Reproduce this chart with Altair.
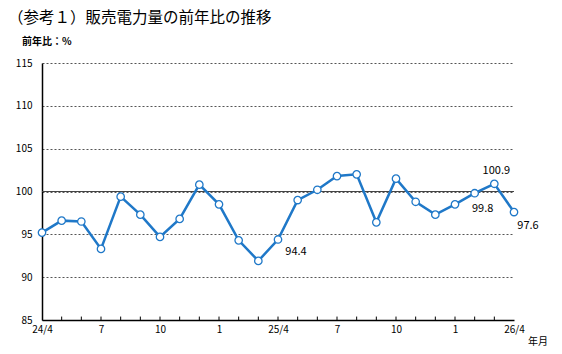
import altair as alt
import pandas as pd

months = ["24/4", "24/5", "24/6", "24/7", "24/8", "24/9", "24/10", "24/11", "24/12",
          "25/1", "25/2", "25/3", "25/4", "25/5", "25/6", "25/7", "25/8", "25/9",
          "25/10", "25/11", "25/12", "26/1", "26/2", "26/3", "26/4"]
values = [95.2, 96.6, 96.5, 93.3, 99.4, 97.3, 94.7, 96.8, 100.8,
          98.5, 94.3, 91.9, 94.4, 99.0, 100.2, 101.8, 102.0, 96.4,
          101.5, 98.8, 97.3, 98.5, 99.8, 100.9, 97.6]
x_labels = ["24/4", "", "", "7", "", "", "10", "", "", "1", "", "", "25/4",
            "", "", "7", "", "", "10", "", "", "1", "", "", "26/4"]
y_ticks = [85, 90, 95, 100, 105, 110, 115]
title_text = "（参考１）販売電力量の前年比の推移"
y_title = "前年比：%"
x_title = "年月"

FONT = "Noto Sans CJK JP"
BLUE = "#1f78c8"

df = pd.DataFrame({"i": list(range(len(months))), "month": months, "value": values})
label_expr = "[" + ",".join("'" + s + "'" for s in x_labels) + "][datum.value]"

xs = alt.Scale(domain=[0, 24], nice=False, zero=False)
ys = alt.Scale(domain=[85, 115], nice=False, zero=False)

base = alt.Chart(df)

line = base.mark_line(color=BLUE, strokeWidth=2.5).encode(
    x=alt.X("i:Q", scale=xs, axis=alt.Axis(
        values=list(range(0, 25, 3)), labelExpr=label_expr, title=None,
        grid=False, ticks=False, domainColor="black", domainWidth=1.5,
        labelFont=FONT, labelFontSize=10, labelColor="black", labelPadding=4,
        labelAngle=0, labelFlush=False, labelOverlap=False)),
    y=alt.Y("value:Q", scale=ys, axis=alt.Axis(
        values=y_ticks, title=None, grid=True, gridDash=[2, 2], gridColor="#555",
        gridWidth=1, ticks=False, domainColor="black", domainWidth=1.5,
        labelFont=FONT, labelFontSize=10, labelColor="black", labelPadding=10,
        labelFlush=False)),
)

points = base.mark_point(filled=True, fill="white", stroke=BLUE, strokeWidth=1.3,
                         size=55, opacity=1, shape="circle").encode(
    x=alt.X("i:Q", scale=xs), y=alt.Y("value:Q", scale=ys))

ref_line = alt.Chart(pd.DataFrame({"y": [100]})).mark_rule(
    color="#444", strokeWidth=1).encode(y=alt.Y("y:Q", scale=ys))

tick_df = pd.DataFrame({"i": list(range(1, 24)), "y0": [85] * 23, "y1": [85.4] * 23})
minor_ticks = alt.Chart(tick_df).mark_rule(color="black", strokeWidth=1).encode(
    x=alt.X("i:Q", scale=xs), y=alt.Y("y0:Q", scale=ys), y2="y1:Q")


def label(idx, dx, dy):
    d = pd.DataFrame({"i": [idx], "value": [values[idx]],
                      "t": [f"{values[idx]:.1f}"]})
    return alt.Chart(d).mark_text(font=FONT, fontSize=11, color="black",
                                  dx=dx, dy=dy).encode(
        x=alt.X("i:Q", scale=xs), y=alt.Y("value:Q", scale=ys), text="t:N")


labels = [label(12, 18, 13), label(22, 8, 16), label(23, 2, -13), label(24, 14, 14)]


def free_text(txt, x, y, size, weight="normal"):
    return alt.Chart(pd.DataFrame({"t": [txt]})).mark_text(
        font=FONT, fontSize=size, fontWeight=weight, color="black",
        align="left", baseline="middle").encode(
        x=alt.value(x), y=alt.value(y), text="t:N")


texts = [free_text(title_text, -34, -45, 15.5),
         free_text(y_title, -20, -21, 10, "bold"),
         free_text(x_title, 486, 279, 10)]

chart = alt.layer(ref_line, minor_ticks, line, points, *labels, *texts).properties(
    width=472, height=257,
    autosize=alt.AutoSizeParams(type="none"),
    padding={"left": 42, "top": 63, "right": 48, "bottom": 34},
    background="white",
).configure_view(stroke=None)

chart.save("out.html", embed_options={"renderer": "svg", "actions": False})
